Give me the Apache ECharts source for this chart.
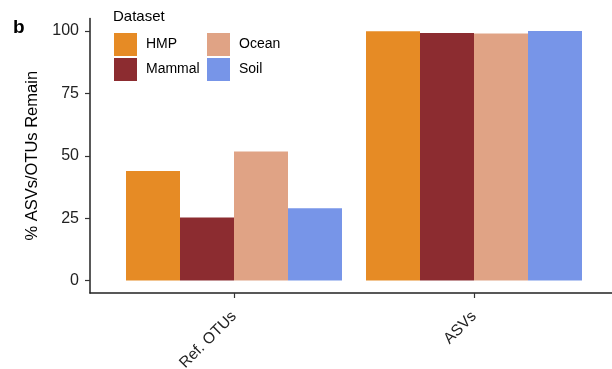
<!DOCTYPE html>
<html><head><meta charset="utf-8">
<script src="https://cdn.jsdelivr.net/npm/echarts@6/dist/echarts.min.js"></script>
<style>html,body{margin:0;padding:0;background:#fff}#c{width:612px;height:369px}</style>
</head><body><div id="c"></div>
<script>
const categories = ["Ref. OTUs", "ASVs"];
const categoryPos = [1, 2];
const datasets = ["HMP", "Mammal", "Ocean", "Soil"];
const HMP = [43.9, 99.9];
const Mammal = [25.3, 99.2];
const Ocean = [51.7, 99.0];
const Soil = [29.0, 100.0];
const yTicks = [0, 25, 50, 75, 100];
const colors = {HMP: "#e68b25", Mammal: "#8c2c30", Ocean: "#e0a385", Soil: "#7795e8"};
const values = {HMP, Mammal, Ocean, Soil};

const font = "Liberation Sans, Arial, Helvetica, sans-serif";
const chart = echarts.init(document.getElementById('c'), null, {renderer: 'canvas'});
const legendText = {fontSize: 14, color: '#000', fontFamily: font, padding: [0, 0, 0, 4]};
chart.setOption({
  animation: false,
  textStyle: {fontFamily: font},
  title: [
    {text: 'b', left: 13, top: 18, padding: 0, textStyle: {fontSize: 19, fontWeight: 'bold', color: '#000', fontFamily: font}},
    {text: 'Dataset', left: 113, top: 9, padding: 0, textStyle: {fontSize: 15, fontWeight: 'normal', color: '#000', fontFamily: font}}
  ],
  legend: [
    {data: ['HMP', 'Mammal'], orient: 'vertical', left: 114, top: 33, padding: 0, itemWidth: 23, itemHeight: 23, itemGap: 2,
     icon: 'rect', textStyle: legendText, selectedMode: false},
    {data: ['Ocean', 'Soil'], orient: 'vertical', left: 207, top: 33, padding: 0, itemWidth: 23, itemHeight: 23, itemGap: 2,
     icon: 'rect', textStyle: legendText, selectedMode: false}
  ],
  grid: {left: 90, right: 0, top: 18.5, bottom: 76, containLabel: false, outerBoundsMode: 'none'},
  xAxis: {
    type: 'value', min: 0.4, max: 2.575,
    splitLine: {show: false},
    axisLine: {show: true, onZero: false, lineStyle: {color: '#222', width: 1.5}},
    axisTick: {show: true, customValues: categoryPos, length: 5, lineStyle: {color: '#333', width: 1.2}},
    axisLabel: {customValues: categoryPos, rotate: 45, fontSize: 15.5, color: '#222', margin: 21,
      formatter: v => categories[categoryPos.indexOf(Math.round(v))] || ''}
  },
  yAxis: {
    type: 'value', min: -5, max: 105,
    name: '% ASVs/OTUs Remain', nameLocation: 'middle', nameGap: 49,
    nameTextStyle: {fontSize: 16.5, color: '#000', fontFamily: font},
    splitLine: {show: false},
    axisLine: {show: true, onZero: false, lineStyle: {color: '#222', width: 1.5}},
    axisTick: {show: true, customValues: yTicks, length: 5, lineStyle: {color: '#333', width: 1.2}},
    axisLabel: {customValues: yTicks, fontSize: 16, color: '#222', margin: 11}
  },
  series: datasets.map(d => ({
    name: d, type: 'bar', barWidth: 54, barGap: '0%',
    itemStyle: {color: colors[d]},
    data: categoryPos.map((p, i) => [p, values[d][i]])
  }))
});
</script></body></html>
